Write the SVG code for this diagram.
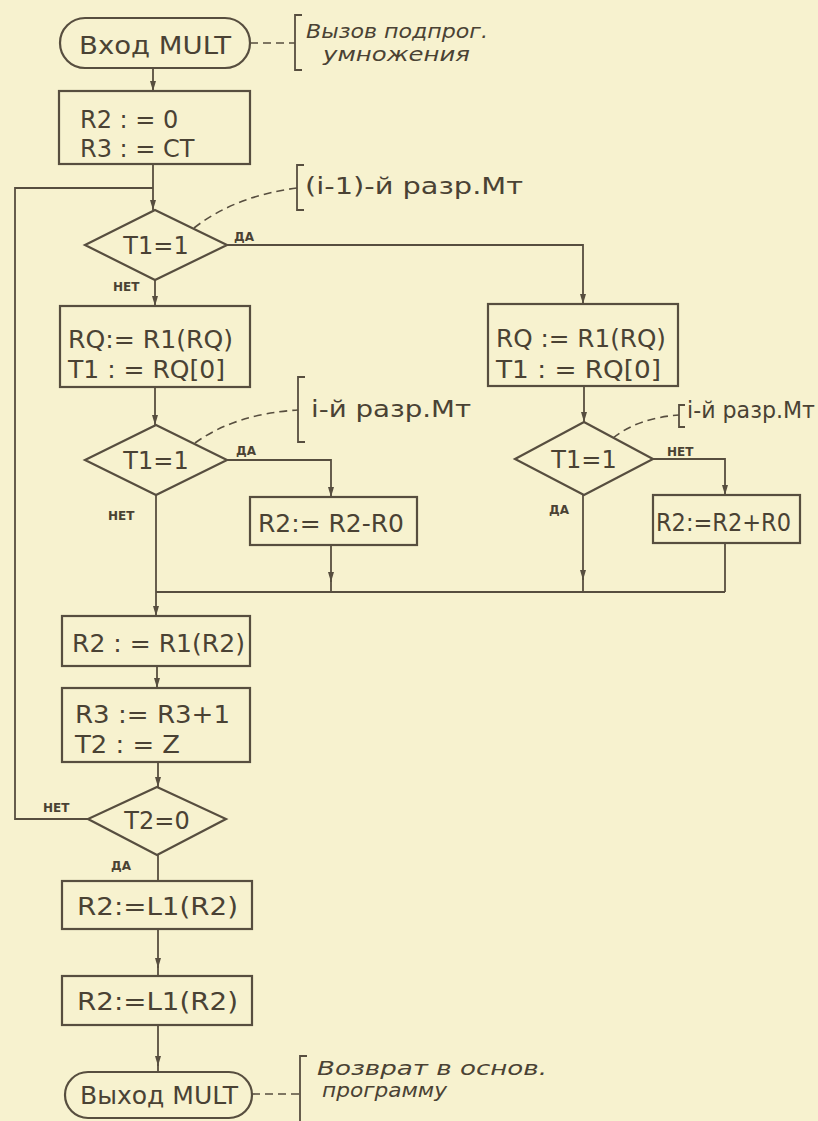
<svg xmlns="http://www.w3.org/2000/svg" width="818" height="1121" viewBox="0 0 818 1121">
<defs>
<marker id="arr" markerUnits="userSpaceOnUse" markerWidth="11" markerHeight="8" refX="10" refY="4" orient="auto">
<path d="M0,1 L10,4 L0,7 z" fill="#574e3f"/>
</marker>
<style>
.shape{fill:none;stroke:#574e3f;stroke-width:2.2}
.line{fill:none;stroke:#574e3f;stroke-width:1.8}
.dash{fill:none;stroke:#574e3f;stroke-width:1.6;stroke-dasharray:8 5}
.br{fill:none;stroke:#574e3f;stroke-width:1.8}
.t{font-family:"DejaVu Sans","Liberation Sans",sans-serif;font-size:24px;fill:#4a4234}
.tc{text-anchor:middle}
.lbl{font-family:"DejaVu Sans","Liberation Sans",sans-serif;font-size:12px;font-weight:bold;fill:#4a4234}
.note{font-family:"DejaVu Sans","Liberation Sans",sans-serif;font-size:23px;fill:#4a4234}
.hand{font-family:"DejaVu Sans","Liberation Sans",sans-serif;font-size:19px;font-style:italic;fill:#4a4234}
</style>
</defs>
<rect x="0" y="0" width="818" height="1121" fill="#f7f2cf"/>

<g id="connectors">
<line class="line" x1="153" y1="68" x2="153" y2="91" marker-end="url(#arr)"/>
<line class="line" x1="153" y1="164" x2="153" y2="210" marker-end="url(#arr)"/>
<polyline class="line" points="227,245 583,245 583,304" marker-end="url(#arr)"/>
<line class="line" x1="155" y1="280" x2="155" y2="306" marker-end="url(#arr)"/>
<line class="line" x1="155" y1="387" x2="155" y2="425" marker-end="url(#arr)"/>
<polyline class="line" points="227,460 331,460 331,497" marker-end="url(#arr)"/>
<line class="line" x1="331" y1="545" x2="331" y2="582" marker-end="url(#arr)"/>
<line class="line" x1="331" y1="580" x2="331" y2="592"/>
<line class="line" x1="156" y1="495" x2="156" y2="616" marker-end="url(#arr)"/>
<line class="line" x1="156" y1="592" x2="725" y2="592"/>
<line class="line" x1="584" y1="386" x2="584" y2="422" marker-end="url(#arr)"/>
<polyline class="line" points="653,459 725,459 725,495" marker-end="url(#arr)"/>
<line class="line" x1="725" y1="543" x2="725" y2="592"/>
<line class="line" x1="583" y1="495" x2="583" y2="580" marker-end="url(#arr)"/>
<line class="line" x1="583" y1="578" x2="583" y2="592"/>
<line class="line" x1="157" y1="666" x2="157" y2="688" marker-end="url(#arr)"/>
<line class="line" x1="158" y1="762" x2="158" y2="787" marker-end="url(#arr)"/>
<line class="line" x1="158" y1="855" x2="158" y2="881"/>
<line class="line" x1="158" y1="929" x2="158" y2="968" marker-end="url(#arr)"/>
<line class="line" x1="158" y1="966" x2="158" y2="976"/>
<line class="line" x1="158" y1="1025" x2="158" y2="1066" marker-end="url(#arr)"/>
<line class="line" x1="158" y1="1064" x2="158" y2="1072"/>
<polyline class="line" points="88,819 15,819 15,188 153,188"/>
<text class="lbl" x="234" y="241">ДА</text>
<text class="lbl" x="113" y="291">НЕТ</text>
<text class="lbl" x="236" y="455">ДА</text>
<text class="lbl" x="108" y="520">НЕТ</text>
<text class="lbl" x="667" y="456">НЕТ</text>
<text class="lbl" x="549" y="514">ДА</text>
<text class="lbl" x="43" y="812">НЕТ</text>
<text class="lbl" x="111" y="870">ДА</text>
<line class="dash" x1="250" y1="43" x2="295" y2="43"/>
<path class="dash" d="M194,228 Q235,196 297,188"/>
<path class="dash" d="M195,443 Q235,414 298,410"/>
<path class="dash" d="M613,438 Q638,418 679,415"/>
<line class="dash" x1="252" y1="1094" x2="300" y2="1094"/>
</g>

<g id="start">
<rect class="shape" x="60" y="18" width="190" height="50" rx="25"/>
<text class="t tc" x="155" y="54" font-size="26" textLength="152" lengthAdjust="spacingAndGlyphs">Вход MULT</text>
</g>
<g id="note-start">
<path class="br" d="M302,15 H295 V70 H302"/>
<text class="hand" x="306" y="38" textLength="182" lengthAdjust="spacingAndGlyphs">Вызов подпрог.</text>
<text class="hand" x="323" y="61" textLength="147" lengthAdjust="spacingAndGlyphs">умножения</text>
</g>

<g id="init">
<rect class="shape" x="59" y="91" width="191" height="73"/>
<text class="t" x="80" y="128">R2 : = 0</text>
<text class="t" x="80" y="157">R3 : = CT</text>
</g>

<g id="cond1">
<polygon class="shape" points="155,210 227,245 155,280 85,245"/>
<text class="t tc" x="156" y="254">T1=1</text>
</g>
<g id="note-cond1">
<path class="br" d="M304,165 H297 V210 H304"/>
<text class="note" x="305" y="194" textLength="218" lengthAdjust="spacingAndGlyphs">(i-1)-й  разр.Мт</text>
</g>

<g id="shift-left">
<rect class="shape" x="60" y="306" width="190" height="81"/>
<text class="t" x="68" y="348" textLength="165" lengthAdjust="spacingAndGlyphs">RQ:= R1(RQ)</text>
<text class="t" x="68" y="378" textLength="157" lengthAdjust="spacingAndGlyphs">T1 : = RQ[0]</text>
</g>

<g id="cond2">
<polygon class="shape" points="156,425 227,460 156,495 85,460"/>
<text class="t tc" x="156" y="469">T1=1</text>
</g>
<g id="note-cond2">
<path class="br" d="M305,377 H298 V442 H305"/>
<text class="note" x="311" y="417" textLength="160" lengthAdjust="spacingAndGlyphs">i-й разр.Мт</text>
</g>

<g id="sub">
<rect class="shape" x="250" y="497" width="167" height="48"/>
<text class="t" x="258" y="532" textLength="146" lengthAdjust="spacingAndGlyphs">R2:= R2-R0</text>
</g>

<g id="shift-right">
<rect class="shape" x="488" y="304" width="190" height="82"/>
<text class="t" x="496" y="347" textLength="170" lengthAdjust="spacingAndGlyphs">RQ := R1(RQ)</text>
<text class="t" x="496" y="378" textLength="165" lengthAdjust="spacingAndGlyphs">T1 : = RQ[0]</text>
</g>

<g id="cond3">
<polygon class="shape" points="584,422 653,459 584,495 515,459"/>
<text class="t tc" x="584" y="468">T1=1</text>
</g>
<g id="note-cond3">
<path class="br" d="M685,405 H679 V427 H685"/>
<text class="note" x="687" y="418" font-size="17" textLength="128" lengthAdjust="spacingAndGlyphs">i-й разр.Мт</text>
</g>

<g id="add">
<rect class="shape" x="653" y="495" width="147" height="48"/>
<text class="t" x="656" y="531" textLength="135" lengthAdjust="spacingAndGlyphs">R2:=R2+R0</text>
</g>

<g id="shift-r2">
<rect class="shape" x="62" y="616" width="188" height="50"/>
<text class="t" x="72" y="652" textLength="173" lengthAdjust="spacingAndGlyphs">R2 : = R1(R2)</text>
</g>

<g id="count">
<rect class="shape" x="62" y="688" width="188" height="74"/>
<text class="t" x="75" y="723" textLength="155" lengthAdjust="spacingAndGlyphs">R3 := R3+1</text>
<text class="t" x="75" y="753" textLength="105" lengthAdjust="spacingAndGlyphs">T2 : = Z</text>
</g>

<g id="cond4">
<polygon class="shape" points="157,787 226,819 157,855 88,819"/>
<text class="t tc" x="157" y="829">T2=0</text>
</g>

<g id="left1">
<rect class="shape" x="62" y="881" width="190" height="48"/>
<text class="t" x="77" y="915" textLength="161" lengthAdjust="spacingAndGlyphs">R2:=L1(R2)</text>
</g>

<g id="left2">
<rect class="shape" x="62" y="976" width="190" height="49"/>
<text class="t" x="77" y="1010" textLength="161" lengthAdjust="spacingAndGlyphs">R2:=L1(R2)</text>
</g>

<g id="end">
<rect class="shape" x="65" y="1072" width="187" height="46" rx="23"/>
<text class="t tc" x="159" y="1104" font-size="25" textLength="158" lengthAdjust="spacingAndGlyphs">Выход MULT</text>
</g>
<g id="note-end">
<path class="br" d="M307,1056 H300 V1121"/>
<text class="hand" x="317" y="1075" textLength="230" lengthAdjust="spacingAndGlyphs">Возврат в основ.</text>
<text class="hand" x="322" y="1097" textLength="125" lengthAdjust="spacingAndGlyphs">программу</text>
</g>
</svg>
